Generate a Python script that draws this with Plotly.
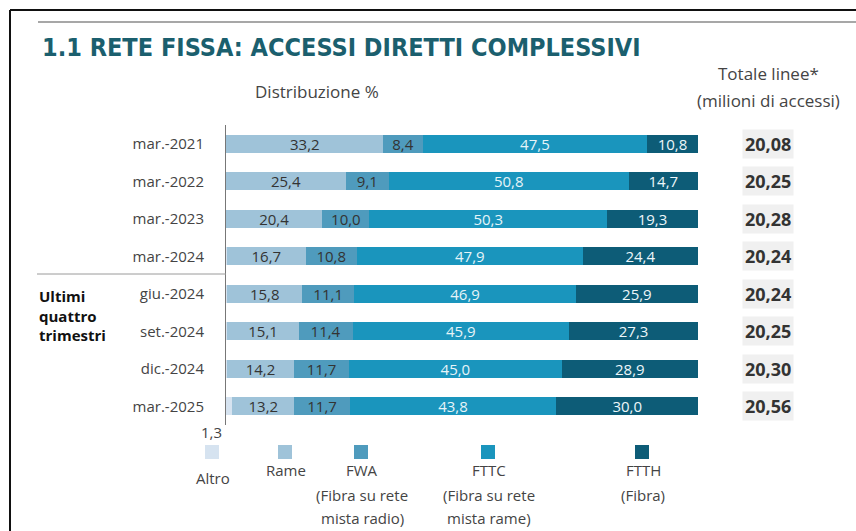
import plotly.graph_objects as go

# ---------------- data ----------------
categories = ["mar.-2021", "mar.-2022", "mar.-2023", "mar.-2024",
              "giu.-2024", "set.-2024", "dic.-2024", "mar.-2025"]
altro = [0.1, 0.0, 0.0, 0.2, 0.3, 0.3, 0.2, 1.3]
rame = [33.2, 25.4, 20.4, 16.7, 15.8, 15.1, 14.2, 13.2]
fwa = [8.4, 9.1, 10.0, 10.8, 11.1, 11.4, 11.7, 11.7]
fttc = [47.5, 50.8, 50.3, 47.9, 46.9, 45.9, 45.0, 43.8]
ftth = [10.8, 14.7, 19.3, 24.4, 25.9, 27.3, 28.9, 30.0]
totale = [20.08, 20.25, 20.28, 20.24, 20.24, 20.25, 20.30, 20.56]

series_names = ["Altro", "Rame", "FWA", "FTTC", "FTTH"]
legend_lines = [["Altro"], ["Rame"], ["FWA", "(Fibra su rete", "mista radio)"],
                ["FTTC", "(Fibra su rete", "mista rame)"], ["FTTH", "(Fibra)"]]

# ---------------- style ----------------
W, H = 856, 531
ML, MR, MT, MB = 226, 158, 125, 106
PW, PH = W - ML - MR, H - MT - MB

colors = ["#d6e3f0", "#9fc3d9", "#4f9bbd", "#1a95bd", "#0d5c77"]
text_colors = ["#333333", "#333333", "#333333", "#e6f4f8", "#eef7fa"]
FONT = "Open Sans, Noto Sans, sans-serif"


def px(x):
    return (x - ML) / PW


def py(y):
    return (H - MB - y) / PH


fig = go.Figure()
values = [altro, rame, fwa, fttc, ftth]
for i, (name, vals) in enumerate(zip(series_names, values)):
    show_text = name != "Altro"
    fig.add_trace(go.Bar(
        y=categories, x=vals, name=name, orientation="h",
        marker=dict(color=colors[i], line=dict(width=0)),
        text=[f"{v:.1f}".replace(".", ",") for v in vals] if show_text else None,
        textposition="inside" if show_text else "none",
        insidetextanchor="middle",
        textangle=0,
        textfont=dict(family=FONT, size=15, color=text_colors[i]),
        showlegend=False,
        hoverinfo="skip",
    ))

annotations = []
shapes = []

# totals column
for cat, t in zip(categories, totale):
    annotations.append(dict(
        x=px(768), xref="paper", y=cat, yref="y",
        text=f"<b>{t:.2f}</b>".replace(".", ","),
        showarrow=False, xanchor="center", yanchor="middle",
        bgcolor="#f0f0f0", borderpad=2,
        font=dict(family=FONT, size=18, color="#333333"),
    ))

# Altro label under last bar
annotations.append(dict(
    x=0, xref="x", y=categories[-1], yref="y",
    text=f"{altro[-1]:.1f}".replace(".", ","),
    showarrow=False, xanchor="center", yanchor="middle",
    xshift=-15, yshift=-26,
    font=dict(family=FONT, size=15, color="#444444"),
))

# Title and headers
annotations += [
    dict(x=px(40), y=py(47), xref="paper", yref="paper",
         text="<b>1.1 RETE FISSA: ACCESSI DIRETTI COMPLESSIVI</b>",
         showarrow=False, xanchor="left", yanchor="middle",
         font=dict(family="DejaVu Sans Condensed, DejaVu Sans, sans-serif",
                   size=25, color="#1b5f6e")),
    dict(x=px(317), y=py(91), xref="paper", yref="paper",
         text="Distribuzione %", showarrow=False,
         xanchor="center", yanchor="middle",
         font=dict(family=FONT, size=17, color="#444444")),
    dict(x=px(768), y=py(73), xref="paper", yref="paper",
         text="Totale linee*", showarrow=False,
         xanchor="center", yanchor="middle",
         font=dict(family=FONT, size=17, color="#444444")),
    dict(x=px(768), y=py(100), xref="paper", yref="paper",
         text="(milioni di accessi)", showarrow=False,
         xanchor="center", yanchor="middle",
         font=dict(family=FONT, size=17, color="#444444")),
    dict(x=px(37), y=py(315), xref="paper", yref="paper",
         text="<b>Ultimi<br>quattro<br>trimestri</b>", showarrow=False,
         xanchor="left", yanchor="middle", align="left",
         font=dict(family=FONT, size=15, color="#111111")),
]

# legend (custom)
leg_x = [212, 285, 361, 488, 642]
line_y = [470, 495, 518]
for i in range(5):
    shapes.append(dict(type="rect", xref="paper", yref="paper",
                       x0=px(leg_x[i] - 7), x1=px(leg_x[i] + 7),
                       y0=py(459), y1=py(445),
                       fillcolor=colors[i], line=dict(width=0)))
    for j, txt in enumerate(legend_lines[i]):
        yy = 478 if i == 0 else line_y[j]
        annotations.append(dict(
            x=px(leg_x[i] + 1), y=py(yy), xref="paper", yref="paper",
            text=txt, showarrow=False,
            xanchor="center", yanchor="middle",
            font=dict(family=FONT, size=15, color="#444444")))

# frame lines
shapes += [
    dict(type="line", xref="paper", yref="paper", x0=px(10), x1=px(860),
         y0=py(10), y1=py(10), line=dict(color="#111111", width=2)),
    dict(type="line", xref="paper", yref="paper", x0=px(10), x1=px(10),
         y0=py(10), y1=py(540), line=dict(color="#111111", width=2)),
    dict(type="line", xref="paper", yref="paper", x0=px(38), x1=px(860),
         y0=py(22), y1=py(22), line=dict(color="#8a8a8a", width=1.5)),
    dict(type="line", xref="paper", yref="paper", x0=px(37), x1=px(226),
         y0=py(274), y1=py(274), line=dict(color="#9a9a9a", width=1)),
]

fig.update_layout(
    width=W, height=H,
    margin=dict(l=ML, r=MR, t=MT, b=MB, pad=0, autoexpand=False),
    barmode="stack", bargap=0.52,
    separators=",.",
    paper_bgcolor="white", plot_bgcolor="white",
    uniformtext=dict(minsize=15, mode="show"),
    xaxis=dict(range=[0, 100], visible=False, fixedrange=True, automargin=False),
    yaxis=dict(categoryorder="array", categoryarray=categories,
               autorange="reversed", showline=True, linecolor="#777777",
               linewidth=1, showgrid=False, zeroline=False, ticks="",
               ticklabelstandoff=18, automargin=False, fixedrange=True,
               tickfont=dict(family=FONT, size=15, color="#444444")),
    annotations=annotations, shapes=shapes,
    showlegend=False,
)

fig.write_html("out.html",
               config={"displayModeBar": False},
               post_script="document.body.style.margin='0px';"
                           "document.body.style.overflow='hidden';")
